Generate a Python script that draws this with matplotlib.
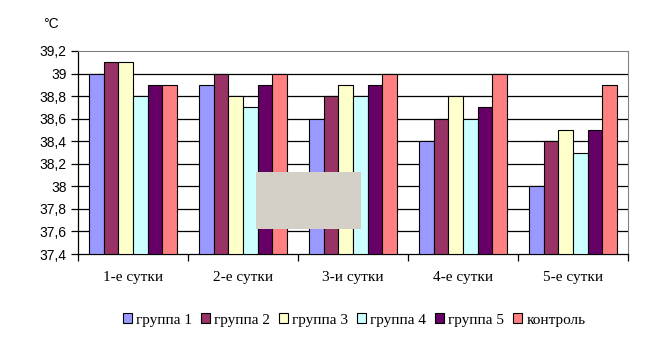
import numpy as np
import matplotlib
matplotlib.use('Agg')
import matplotlib.pyplot as plt
from matplotlib.patches import Rectangle
from matplotlib.ticker import FuncFormatter
from matplotlib.font_manager import FontProperties

days = ['1-е сутки', '2-е сутки', '3-и сутки', '4-е сутки', '5-е сутки']
groups = ['группа 1', 'группа 2', 'группа 3', 'группа 4', 'группа 5', 'контроль']
group1 = [39.0, 38.9, 38.6, 38.4, 38.0]
group2 = [39.1, 39.0, 38.8, 38.6, 38.4]
group3 = [39.1, 38.8, 38.9, 38.8, 38.5]
group4 = [38.8, 38.7, 38.8, 38.6, 38.3]
group5 = [38.9, 38.9, 38.9, 38.7, 38.5]
control = [38.9, 39.0, 39.0, 39.0, 38.9]
series = [group1, group2, group3, group4, group5, control]

colors = ['#9999FF', '#993366', '#FFFFCC', '#CCFFFF', '#660066', '#FF8080']
ymin, ymax = 37.4, 39.2

serif = 'Liberation Serif'
sans = 'Liberation Sans'

fig = plt.figure(figsize=(6.48, 3.39), dpi=100)
ax = fig.add_axes([78 / 648, 1 - 254 / 339, 550 / 648, 203 / 339])

x = np.arange(len(days))
width = 0.8 / len(series)
for i, (vals, col, name) in enumerate(zip(series, colors, groups)):
    offs = x - 0.4 + width * (i + 0.5)
    ax.bar(offs, np.array(vals) - ymin, width, bottom=ymin, color=col,
           edgecolor='black', linewidth=0.8, label=name, zorder=3)

ax.set_ylim(ymin, ymax)
ax.set_xlim(-0.5, len(days) - 0.5)
ticks = np.round(np.arange(ymin, ymax + 0.001, 0.2), 1)
ax.set_yticks(ticks)
ax.yaxis.set_major_formatter(FuncFormatter(lambda v, p: ('%g' % round(v, 1)).replace('.', ',')))
for t in ticks[1:-1]:
    ax.axhline(t, color='black', linewidth=0.9, zorder=1)

# category boundaries carry the tick marks, names sit between them
ax.set_xticks(np.arange(-0.5, len(days), 1.0))
ax.set_xticklabels([])
ax.set_xticks(x, minor=True)
ax.set_xticklabels(days, minor=True, fontsize=11, family=serif)
ax.tick_params(axis='x', which='minor', length=0, pad=12)
ax.tick_params(axis='x', which='major', length=5, width=0.9, direction='out')
ax.tick_params(axis='y', length=5, width=0.9, direction='out', labelsize=10, pad=3)
for lab in ax.get_yticklabels():
    lab.set_family(sans)

ax.spines['top'].set_color('#808080')
ax.spines['right'].set_color('#808080')
ax.spines['left'].set_linewidth(0.9)
ax.spines['bottom'].set_linewidth(0.9)

fig.text(43 / 648, 1 - 24 / 339, '°C', fontsize=10, family=sans, va='center')

leg = fig.legend(loc='center', bbox_to_anchor=(354 / 648, 1 - 320 / 339), ncol=6,
                 frameon=False, prop=FontProperties(family=serif, size=11),
                 handlelength=0.6, handleheight=0.6, handletextpad=0.25,
                 columnspacing=0.6)

fig.patches.append(Rectangle((256 / 648, 1 - 229 / 339), 105 / 648, 57 / 339,
                             transform=fig.transFigure, facecolor='#D4D0C8',
                             edgecolor='none', zorder=10))

fig.savefig('out.png', dpi=100)
